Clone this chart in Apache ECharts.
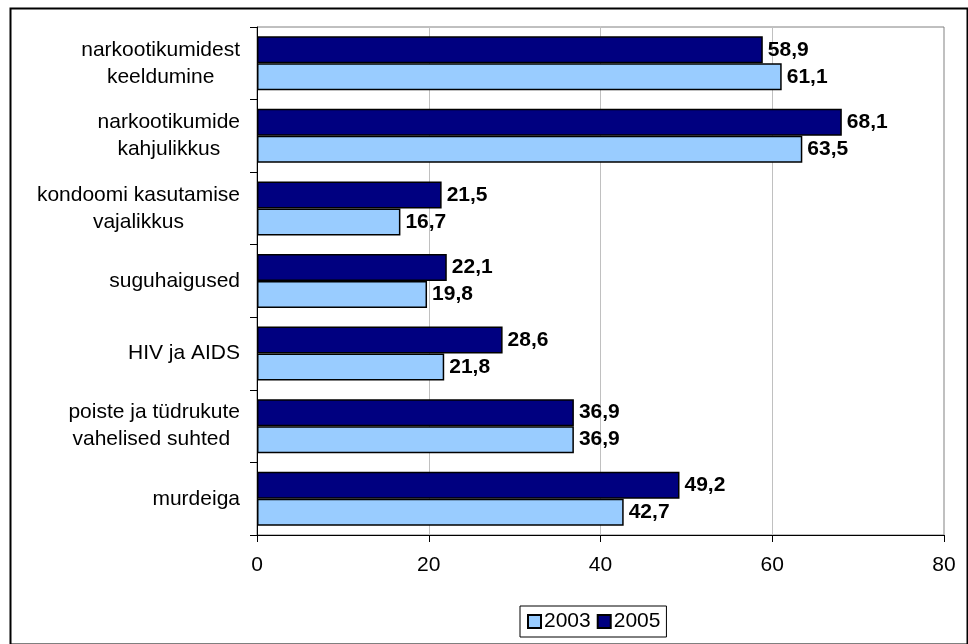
<!DOCTYPE html>
<html>
<head>
<meta charset="utf-8">
<script src="https://cdn.jsdelivr.net/npm/echarts@6/dist/echarts.min.js"></script>
<style>
html,body{margin:0;padding:0;background:#fff;}
#chart{width:968px;height:644px;}
</style>
</head>
<body>
<div id="chart"></div>
<script>
const categories = ['narkootikumidest\nkeeldumine', 'narkootikumide\nkahjulikkus', 'kondoomi kasutamise\nvajalikkus', 'suguhaigused', 'HIV ja AIDS', 'poiste ja tüdrukute\nvahelised suhted ', 'murdeiga'];
const values2005 = [58.9, 68.1, 21.5, 22.1, 28.6, 36.9, 49.2];
const values2003 = [61.1, 63.5, 16.7, 19.8, 21.8, 36.9, 42.7];
const xTicks = [0, 20, 40, 60, 80];

const FONT = '"Liberation Sans", Arial, sans-serif';
const chart = echarts.init(document.getElementById('chart'), null, {renderer: 'canvas'});

const labelCfg = {
  show: true,
  position: 'right',
  distance: 5,
  fontFamily: FONT,
  fontSize: 21,
  fontWeight: 'bold',
  color: '#000',
  formatter: p => String(p.value).replace('.', ',')
};

chart.setOption({
  animation: false,
  backgroundColor: '#fff',
  grid: {left: 257, top: 27, width: 687, height: 508, show: true, borderColor: '#808080', borderWidth: 1},
  xAxis: {
    type: 'value', min: xTicks[0], max: xTicks[xTicks.length - 1], interval: 20,
    axisLine: {show: true, lineStyle: {color: '#000', width: 1}},
    axisTick: {show: true, length: 7, lineStyle: {color: '#000'}},
    splitLine: {show: true, lineStyle: {color: '#c0c0c0', width: 1}},
    axisLabel: {fontFamily: FONT, fontSize: 21, color: '#000', margin: 20}
  },
  yAxis: {
    type: 'category', inverse: true, data: categories,
    axisLine: {show: true, lineStyle: {color: '#000', width: 1}},
    axisTick: {show: true, length: 7, lineStyle: {color: '#000'}},
    axisLabel: {
      margin: 17, align: 'right', fontFamily: FONT, fontSize: 21, color: '#000',
      formatter: v => v.split('\n').map(l => '{c|' + l + '}').join('\n'),
      rich: {c: {align: 'center', fontFamily: FONT, fontSize: 21, lineHeight: 27, color: '#000'}}
    }
  },
  legend: {
    data: ['2003', '2005'],
    left: 520, top: 606,
    orient: 'horizontal',
    icon: 'rect', itemWidth: 13, itemHeight: 13, itemGap: 6,
    borderColor: '#000', borderWidth: 1, padding: [5, 6, 5, 7],
    textStyle: {fontFamily: FONT, fontSize: 21, color: '#000', padding: [0, 0, 0, -2]},
    itemStyle: {borderColor: '#000', borderWidth: 2}
  },
  graphic: [{
    type: 'rect', left: 8, top: 6, z: 100,
    shape: {x: 0, y: 0, width: 957, height: 636},
    style: {fill: 'none', stroke: '#000', lineWidth: 2}
  }],
  series: [
    {name: '2005', type: 'bar', data: values2005, barWidth: 27, barGap: '0%',
     itemStyle: {color: '#000080', borderColor: '#000', borderWidth: 1.5}, label: labelCfg},
    {name: '2003', type: 'bar', data: values2003, barWidth: 27, barGap: '0%',
     itemStyle: {color: '#99ccff', borderColor: '#000', borderWidth: 1.5}, label: labelCfg}
  ]
});
</script>
</body>
</html>
